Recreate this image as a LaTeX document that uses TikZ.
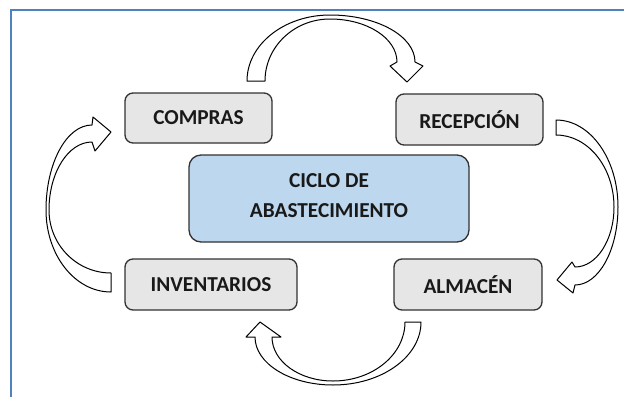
\documentclass[tikz,border=0pt]{standalone}
\usepackage{fontspec}
\setmainfont{Carlito}
\definecolor{frameblue}{RGB}{79,129,189}
\definecolor{boxfill}{RGB}{230,230,230}
\definecolor{centerfill}{RGB}{189,215,238}
\definecolor{boxline}{RGB}{50,50,50}
\definecolor{txt}{RGB}{25,25,25}
\begin{document}
\begin{tikzpicture}[x=1pt,y=-1pt,
  frame/.style={draw=frameblue, line width=1.5pt},
  box/.style={draw=boxline, fill=boxfill, line width=1.3pt, rounded corners=8pt,
    font=\bfseries\fontsize{21.3}{29.5}\selectfont, text=txt, inner sep=0pt, align=center},
  centerbox/.style={box, fill=centerfill, rounded corners=12pt, text depth=6pt},
  blockarrow/.style={draw=black, fill=white, line width=1pt, line join=round}]
\useasboundingbox (0,0) rectangle (624,397);
\draw[frame] (11,397) -- (11,10) -- (624,10);

\node[box, minimum width=147pt, minimum height=50pt] (compras) at (198.5,118) {COMPRAS};
\node[box, minimum width=147pt, minimum height=51pt] (recepcion) at (469.5,119.5) {RECEPCIÓN};
\node[centerbox, minimum width=280pt, minimum height=87pt] (ciclo) at (329,198.5) {CICLO DE\\ABASTECIMIENTO};
\node[box, minimum width=172pt, minimum height=51pt] (inventarios) at (211,284.5) {INVENTARIOS};
\node[box, minimum width=148pt, minimum height=51pt] (almacen) at (468,284.5) {ALMACÉN};

% top arrow: COMPRAS -> RECEPCION
\draw[blockarrow] (247,81)
  arc[start angle=180, end angle=270, x radius=83, y radius=66]
  arc[start angle=270, end angle=360, x radius=85, y radius=47]
  -- (423,66) -- (407,82) -- (390,66) -- (397,62)
  arc[start angle=0, end angle=-90, x radius=67, y radius=43]
  arc[start angle=270, end angle=180, x radius=65, y radius=62]
  -- cycle;

% right arrow: RECEPCION -> ALMACEN
\draw[blockarrow] (556,120)
  arc[start angle=270, end angle=360, x radius=62, y radius=87]
  arc[start angle=0, end angle=90, x radius=43, y radius=78]
  -- (573,293) -- (557,280) -- (572,262) -- (575,267)
  arc[start angle=90, end angle=0, x radius=39, y radius=60]
  arc[start angle=0, end angle=-90, x radius=58, y radius=72]
  -- cycle;

% bottom arrow: ALMACEN -> INVENTARIOS
\draw[blockarrow] (421,322)
  arc[start angle=0, end angle=90, x radius=88, y radius=63]
  arc[start angle=90, end angle=180, x radius=78, y radius=48]
  -- (246,337) -- (260,322) -- (281,337) -- (272,337)
  arc[start angle=180, end angle=90, x radius=61, y radius=44]
  arc[start angle=90, end angle=0, x radius=72, y radius=59]
  -- cycle;

% left arrow: INVENTARIOS -> COMPRAS
\draw[blockarrow] (111,292)
  arc[start angle=90, end angle=180, x radius=65, y radius=82]
  arc[start angle=180, end angle=270, x radius=46, y radius=85]
  -- (93,117) -- (111,132) -- (95,151) -- (92,142)
  arc[start angle=270, end angle=180, x radius=43, y radius=68]
  arc[start angle=180, end angle=90, x radius=62, y radius=63]
  -- cycle;
\end{tikzpicture}
\end{document}
